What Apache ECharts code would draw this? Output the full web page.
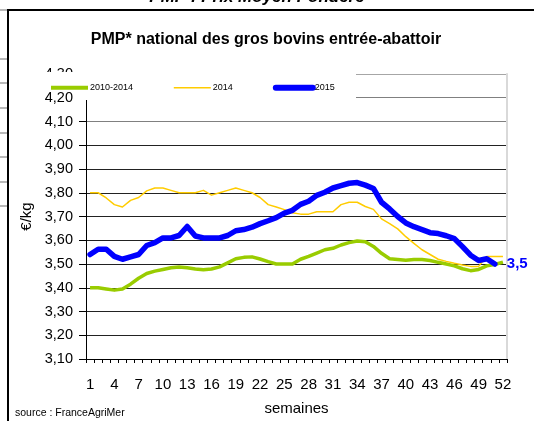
<!DOCTYPE html>
<html>
<head>
<meta charset="utf-8">
<script src="https://cdn.jsdelivr.net/npm/echarts@6/dist/echarts.min.js"></script>
<style>
  html, body { margin: 0; padding: 0; background: #fff; }
  #chart { width: 534px; height: 421px; }
</style>
</head>
<body>
<div id="chart"></div>
<script>
// semaines 1..52
const weeks = ['1','2','3','4','5','6','7','8','9','10','11','12','13','14','15','16','17','18','19','20',
  '21','22','23','24','25','26','27','28','29','30','31','32','33','34','35','36','37','38','39','40',
  '41','42','43','44','45','46','47','48','49','50','51','52'];

// PMP €/kg
const avg2010_2014 = [3.40,3.40,3.395,3.39,3.395,3.415,3.44,3.46,3.47,3.477,
  3.484,3.487,3.484,3.479,3.476,3.479,3.488,3.505,3.522,3.528,
  3.53,3.521,3.51,3.50,3.50,3.50,3.52,3.532,3.546,3.56,
  3.566,3.58,3.59,3.597,3.594,3.574,3.545,3.522,3.519,3.516,
  3.519,3.519,3.515,3.507,3.50,3.492,3.48,3.472,3.477,3.492,
  3.498,3.508];
const year2014 = [3.80,3.80,3.778,3.75,3.74,3.768,3.78,3.808,3.82,3.82,
  3.81,3.80,3.80,3.80,3.81,3.79,3.80,3.81,3.82,3.81,
  3.80,3.78,3.75,3.74,3.729,3.716,3.71,3.71,3.72,3.72,
  3.72,3.75,3.76,3.76,3.742,3.73,3.69,3.67,3.648,3.615,
  3.587,3.56,3.54,3.52,3.511,3.503,3.496,3.49,3.49,3.532,
  3.532,3.532];
const year2015 = [3.54,3.562,3.562,3.532,3.52,3.53,3.54,3.578,3.59,3.61,
  3.61,3.62,3.658,3.618,3.61,3.61,3.61,3.62,3.64,3.645,
  3.655,3.67,3.682,3.695,3.714,3.726,3.751,3.764,3.789,3.802,
  3.82,3.83,3.84,3.843,3.832,3.818,3.76,3.732,3.70,3.673,
  3.657,3.645,3.632,3.628,3.619,3.607,3.573,3.537,3.515,3.522,
  3.50];

const yMin = 3.1, yMax = 4.3, yStep = 0.1;
const font = 'Liberation Sans, Arial, sans-serif';

// gridline colours from 3,10 up to 4,30
const gridColors = ['#222','#222','#222','#222','#222','#222','#222','#222','#222','#222','#808080','#808080','#a6a6a6'];

const chart = echarts.init(document.getElementById('chart'));

const leftMarks = [10, 59, 83, 108, 133, 157, 182, 206];

chart.setOption({
  animation: false,
  textStyle: { fontFamily: font },
  grid: { left: 86, right: 27, top: 74, bottom: 58 },
  legend: {
    left: 44,
    top: 78,
    z: 10,
    itemWidth: 37,
    itemHeight: 12,
    itemGap: 40,
    itemStyle: { opacity: 0 },
    textStyle: { fontSize: 9, color: '#000', fontFamily: font, padding: [0, 0, 0, -3] },
    data: [
      { name: '2010-2014', lineStyle: { width: 4 } },
      { name: '2014', lineStyle: { width: 1.5 } },
      { name: '2015', lineStyle: { width: 6, cap: 'round' } }
    ]
  },
  xAxis: {
    type: 'category',
    data: weeks,
    boundaryGap: true,
    name: 'semaines',
    nameLocation: 'middle',
    nameGap: 42,
    nameTextStyle: { fontSize: 15, color: '#000', fontFamily: font },
    axisLine: { lineStyle: { color: '#000', width: 1 } },
    axisTick: { show: true, interval: 0, length: 4, lineStyle: { color: '#000' } },
    axisLabel: { interval: 2, fontSize: 15, color: '#000', margin: 18, fontFamily: font },
    splitLine: { show: false }
  },
  yAxis: [{
    type: 'value',
    min: yMin,
    max: yMax,
    interval: yStep,
    name: '€/kg',
    nameLocation: 'middle',
    nameRotate: 90,
    nameGap: 52,
    nameTextStyle: { fontSize: 15, color: '#000', fontFamily: font },
    axisLine: { show: true, lineStyle: { color: '#000', width: 1 } },
    axisTick: { show: true, length: 7, lineStyle: { color: '#000' } },
    axisLabel: {
      fontSize: 14.5, color: '#000', margin: 13, fontFamily: font,
      formatter: v => v.toFixed(2).replace('.', ',')
    },
    splitLine: { show: true, lineStyle: { color: gridColors, width: 1 } }
  }, {
    type: 'value',
    min: yMin,
    max: yMax,
    interval: yStep,
    position: 'right',
    axisLine: { show: true, lineStyle: { color: '#d9d9d9', width: 2 } },
    axisTick: { show: false },
    axisLabel: { show: false },
    splitLine: { show: false }
  }],
  graphic: [
    // outer frame
    { type: 'rect', z: 1, shape: { x: 8, y: 10, width: 600, height: 500 },
      style: { fill: 'none', stroke: '#000', lineWidth: 2 } },
    // grey marks left of the frame
    ...leftMarks.map(y => ({ type: 'line', z: 1, shape: { x1: 0, y1: y, x2: 7, y2: y },
      style: { stroke: '#a0a0a0', lineWidth: 1.5 } })),
    // cut header above the frame
    { type: 'text', z: 1, style: { x: 257, y: 6, text: 'PMP : Prix Moyen Pondéré', textAlign: 'center',
      textVerticalAlign: 'bottom', font: 'italic bold 17px ' + font, fill: '#000' } },
    { type: 'text', z: 1, style: { x: 266, y: 40, text: 'PMP* national des gros bovins entrée-abattoir',
      textAlign: 'center', textVerticalAlign: 'middle', font: 'bold 16px ' + font, fill: '#000' } },
    { type: 'text', z: 1, style: { x: 15, y: 413, text: 'source : FranceAgriMer',
      textVerticalAlign: 'middle', font: '10.5px ' + font, fill: '#000' } },
    // white legend box covering the top of the plot
    { type: 'rect', z: 3, shape: { x: 14, y: 72, width: 342, height: 19 }, style: { fill: '#fff' } },
    { type: 'rect', z: 3, shape: { x: 78, y: 89, width: 278, height: 11 }, style: { fill: '#fff' } }
  ],
  series: [{
    name: '2010-2014',
    type: 'line',
    data: avg2010_2014,
    showSymbol: false,
    symbol: 'none',
    lineStyle: { color: '#99cc00', width: 3.5, join: 'round' },
    itemStyle: { color: '#99cc00' }
  }, {
    name: '2014',
    type: 'line',
    data: year2014,
    showSymbol: false,
    symbol: 'none',
    lineStyle: { color: '#ffcc00', width: 1.5, join: 'round' },
    itemStyle: { color: '#ffcc00' }
  }, {
    name: '2015',
    type: 'line',
    data: year2015,
    showSymbol: false,
    symbol: 'none',
    lineStyle: { color: '#0000ff', width: 5.5, join: 'round', cap: 'round' },
    itemStyle: { color: '#0000ff' },
    endLabel: {
      show: true,
      distance: 12,
      color: '#0000ff',
      fontWeight: 'bold',
      fontSize: 15,
      fontFamily: font,
      formatter: p => p.value.toFixed(1).replace('.', ',')
    }
  }]
});
</script>
</body>
</html>
